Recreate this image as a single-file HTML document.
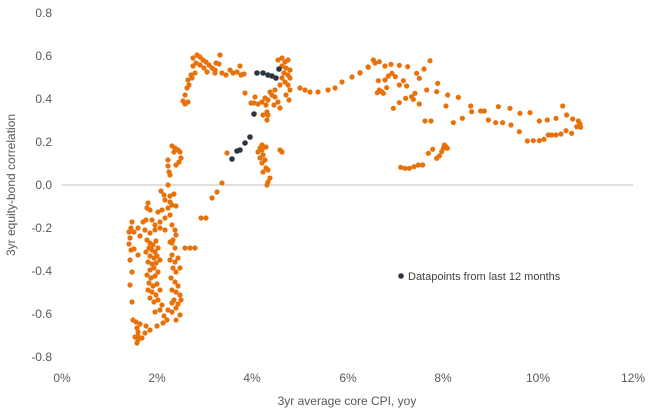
<!DOCTYPE html>
<html><head><meta charset="utf-8"><style>
html,body{margin:0;padding:0;background:#fff;}
svg{display:block;font-family:"Liberation Sans",sans-serif;}
</style></head><body>
<svg width="660" height="411" viewBox="0 0 660 411" xmlns="http://www.w3.org/2000/svg">
<line x1="62" y1="185" x2="633" y2="185" stroke="#bfbfbf" stroke-width="1"/>
<g fill="#595959" font-size="12" text-anchor="end">
<text x="52" y="17">0.8</text><text x="52" y="60">0.6</text><text x="52" y="103">0.4</text><text x="52" y="146">0.2</text><text x="52" y="189">0.0</text><text x="52" y="232">-0.2</text><text x="52" y="275">-0.4</text><text x="52" y="318">-0.6</text><text x="52" y="361">-0.8</text>
</g>
<g fill="#595959" font-size="12" text-anchor="middle">
<text x="62" y="382">0%</text><text x="157" y="382">2%</text><text x="252" y="382">4%</text><text x="348" y="382">6%</text><text x="443" y="382">8%</text><text x="538" y="382">10%</text><text x="633" y="382">12%</text>
<text x="347" y="405">3yr average core CPI, yoy</text>
<text transform="translate(15,185) rotate(-90)">3yr equity-bond correlation</text>
</g>
<g fill="#E8710A">
<circle cx="172" cy="146" r="2.6"/><circle cx="175" cy="148" r="2.6"/><circle cx="178" cy="150" r="2.6"/><circle cx="180" cy="152" r="2.6"/><circle cx="174" cy="152" r="2.6"/><circle cx="181" cy="158" r="2.6"/><circle cx="179" cy="162" r="2.6"/><circle cx="176" cy="165" r="2.6"/>
<circle cx="168" cy="160" r="2.6"/><circle cx="168" cy="166" r="2.6"/><circle cx="169" cy="172" r="2.6"/><circle cx="170" cy="175" r="2.6"/>
<circle cx="168" cy="185" r="2.6"/><circle cx="161" cy="191" r="2.6"/><circle cx="164" cy="195" r="2.6"/><circle cx="170" cy="196" r="2.6"/><circle cx="174" cy="194" r="2.6"/><circle cx="165" cy="200" r="2.6"/><circle cx="170" cy="202" r="2.6"/>
<circle cx="148" cy="203" r="2.6"/><circle cx="147" cy="208" r="2.6"/><circle cx="150" cy="210" r="2.6"/><circle cx="158" cy="212" r="2.6"/><circle cx="162" cy="210" r="2.6"/><circle cx="168" cy="208" r="2.6"/><circle cx="172" cy="205" r="2.6"/><circle cx="176" cy="206" r="2.6"/><circle cx="170" cy="215" r="2.6"/><circle cx="165" cy="218" r="2.6"/><circle cx="160" cy="222" r="2.6"/><circle cx="155" cy="225" r="2.6"/><circle cx="152" cy="220" r="2.6"/><circle cx="146" cy="220" r="2.6"/><circle cx="143" cy="222" r="2.6"/><circle cx="132" cy="222" r="2.6"/><circle cx="131" cy="228" r="2.6"/><circle cx="129" cy="232" r="2.6"/><circle cx="130" cy="238" r="2.6"/><circle cx="134" cy="232" r="2.6"/><circle cx="138" cy="228" r="2.6"/><circle cx="140" cy="236" r="2.6"/><circle cx="145" cy="230" r="2.6"/><circle cx="150" cy="233" r="2.6"/><circle cx="155" cy="230" r="2.6"/><circle cx="160" cy="228" r="2.6"/><circle cx="165" cy="230" r="2.6"/><circle cx="172" cy="225" r="2.6"/><circle cx="175" cy="230" r="2.6"/><circle cx="176" cy="235" r="2.6"/><circle cx="173" cy="240" r="2.6"/><circle cx="170" cy="242" r="2.6"/>
<circle cx="147" cy="240" r="2.6"/><circle cx="150" cy="243" r="2.6"/><circle cx="153" cy="245" r="2.6"/><circle cx="156" cy="241" r="2.6"/><circle cx="149" cy="248" r="2.6"/><circle cx="152" cy="250" r="2.6"/><circle cx="155" cy="252" r="2.6"/><circle cx="158" cy="248" r="2.6"/><circle cx="146" cy="252" r="2.6"/><circle cx="150" cy="256" r="2.6"/><circle cx="154" cy="258" r="2.6"/><circle cx="157" cy="256" r="2.6"/><circle cx="148" cy="262" r="2.6"/><circle cx="152" cy="264" r="2.6"/><circle cx="156" cy="263" r="2.6"/><circle cx="160" cy="260" r="2.6"/><circle cx="150" cy="270" r="2.6"/><circle cx="154" cy="268" r="2.6"/><circle cx="147" cy="275" r="2.6"/><circle cx="151" cy="278" r="2.6"/><circle cx="155" cy="276" r="2.6"/><circle cx="158" cy="272" r="2.6"/><circle cx="149" cy="283" r="2.6"/><circle cx="153" cy="286" r="2.6"/><circle cx="157" cy="284" r="2.6"/><circle cx="152" cy="292" r="2.6"/><circle cx="156" cy="295" r="2.6"/><circle cx="160" cy="290" r="2.6"/><circle cx="148" cy="290" r="2.6"/><circle cx="158" cy="300" r="2.6"/><circle cx="154" cy="302" r="2.6"/><circle cx="150" cy="298" r="2.6"/><circle cx="162" cy="305" r="2.6"/><circle cx="160" cy="310" r="2.6"/><circle cx="155" cy="312" r="2.6"/><circle cx="164" cy="316" r="2.6"/><circle cx="168" cy="310" r="2.6"/><circle cx="172" cy="303" r="2.6"/>
<circle cx="172" cy="243" r="2.6"/><circle cx="175" cy="248" r="2.6"/><circle cx="172" cy="255" r="2.6"/><circle cx="170" cy="260" r="2.6"/><circle cx="175" cy="262" r="2.6"/><circle cx="178" cy="258" r="2.6"/><circle cx="173" cy="268" r="2.6"/><circle cx="176" cy="272" r="2.6"/><circle cx="180" cy="268" r="2.6"/><circle cx="171" cy="278" r="2.6"/><circle cx="175" cy="282" r="2.6"/><circle cx="178" cy="286" r="2.6"/><circle cx="172" cy="290" r="2.6"/><circle cx="176" cy="292" r="2.6"/><circle cx="180" cy="295" r="2.6"/><circle cx="174" cy="300" r="2.6"/><circle cx="178" cy="304" r="2.6"/><circle cx="181" cy="300" r="2.6"/><circle cx="176" cy="308" r="2.6"/><circle cx="172" cy="312" r="2.6"/><circle cx="180" cy="315" r="2.6"/><circle cx="176" cy="320" r="2.6"/><circle cx="167" cy="320" r="2.6"/><circle cx="163" cy="323" r="2.6"/><circle cx="157" cy="326" r="2.6"/><circle cx="150" cy="330" r="2.6"/><circle cx="146" cy="326" r="2.6"/><circle cx="140" cy="324" r="2.6"/><circle cx="145" cy="333" r="2.6"/><circle cx="142" cy="338" r="2.6"/><circle cx="138" cy="336" r="2.6"/><circle cx="133" cy="320" r="2.6"/><circle cx="132" cy="302" r="2.6"/><circle cx="130" cy="285" r="2.6"/><circle cx="132" cy="272" r="2.6"/><circle cx="130" cy="260" r="2.6"/><circle cx="131" cy="250" r="2.6"/><circle cx="129" cy="244" r="2.6"/><circle cx="134" cy="249" r="2.6"/><circle cx="138" cy="255" r="2.6"/>
<circle cx="137" cy="328" r="2.6"/><circle cx="136" cy="322" r="2.6"/><circle cx="138" cy="340" r="2.6"/><circle cx="137" cy="343" r="2.6"/><circle cx="138" cy="332" r="2.6"/><circle cx="135" cy="337" r="2.6"/>
<circle cx="185" cy="248" r="2.6"/><circle cx="190" cy="248" r="2.6"/><circle cx="195" cy="248" r="2.6"/><circle cx="201" cy="218" r="2.6"/><circle cx="206" cy="218" r="2.6"/><circle cx="212" cy="198" r="2.6"/><circle cx="217" cy="192" r="2.6"/><circle cx="222" cy="183" r="2.6"/>
<circle cx="193" cy="58" r="2.6"/><circle cx="197" cy="55" r="2.6"/><circle cx="200" cy="57" r="2.6"/><circle cx="203" cy="60" r="2.6"/><circle cx="206" cy="62" r="2.6"/><circle cx="209" cy="65" r="2.6"/><circle cx="212" cy="68" r="2.6"/><circle cx="215" cy="70" r="2.6"/><circle cx="196" cy="63" r="2.6"/><circle cx="200" cy="65" r="2.6"/><circle cx="204" cy="68" r="2.6"/><circle cx="207" cy="72" r="2.6"/><circle cx="193" cy="66" r="2.6"/><circle cx="191" cy="75" r="2.6"/><circle cx="195" cy="73" r="2.6"/><circle cx="215" cy="73" r="2.6"/><circle cx="216" cy="63" r="2.6"/><circle cx="219" cy="64" r="2.6"/><circle cx="220" cy="55" r="2.6"/><circle cx="222" cy="73" r="2.6"/><circle cx="226" cy="75" r="2.6"/><circle cx="230" cy="70" r="2.6"/><circle cx="233" cy="73" r="2.6"/><circle cx="237" cy="72" r="2.6"/><circle cx="241" cy="75" r="2.6"/><circle cx="244" cy="74" r="2.6"/><circle cx="240" cy="66" r="2.6"/><circle cx="188" cy="80" r="2.6"/><circle cx="192" cy="78" r="2.6"/><circle cx="189" cy="85" r="2.6"/><circle cx="187" cy="88" r="2.6"/><circle cx="185" cy="95" r="2.6"/><circle cx="183" cy="101" r="2.6"/><circle cx="185" cy="104" r="2.6"/><circle cx="188" cy="102" r="2.6"/>
<circle cx="278" cy="60" r="2.6"/><circle cx="282" cy="58" r="2.6"/><circle cx="285" cy="62" r="2.6"/><circle cx="288" cy="60" r="2.6"/><circle cx="282" cy="66" r="2.6"/><circle cx="286" cy="68" r="2.6"/><circle cx="290" cy="70" r="2.6"/><circle cx="284" cy="73" r="2.6"/><circle cx="288" cy="75" r="2.6"/><circle cx="290" cy="78" r="2.6"/><circle cx="282" cy="78" r="2.6"/><circle cx="285" cy="82" r="2.6"/><circle cx="288" cy="85" r="2.6"/><circle cx="290" cy="90" r="2.6"/><circle cx="280" cy="85" r="2.6"/><circle cx="275" cy="90" r="2.6"/><circle cx="272" cy="95" r="2.6"/><circle cx="268" cy="100" r="2.6"/><circle cx="262" cy="102" r="2.6"/><circle cx="258" cy="104" r="2.6"/><circle cx="254" cy="103" r="2.6"/><circle cx="251" cy="103" r="2.6"/><circle cx="245" cy="93" r="2.6"/><circle cx="255" cy="97" r="2.6"/><circle cx="265" cy="98" r="2.6"/><circle cx="270" cy="92" r="2.6"/><circle cx="275" cy="97" r="2.6"/><circle cx="278" cy="102" r="2.6"/><circle cx="274" cy="105" r="2.6"/><circle cx="266" cy="105" r="2.6"/><circle cx="286" cy="95" r="2.6"/><circle cx="289" cy="100" r="2.6"/><circle cx="280" cy="108" r="2.6"/><circle cx="267" cy="112" r="2.6"/><circle cx="268" cy="115" r="2.6"/><circle cx="267" cy="120" r="2.6"/><circle cx="263" cy="115" r="2.6"/>
<circle cx="300" cy="88" r="2.6"/><circle cx="305" cy="90" r="2.6"/><circle cx="310" cy="92" r="2.6"/><circle cx="318" cy="92" r="2.6"/><circle cx="328" cy="90" r="2.6"/><circle cx="335" cy="88" r="2.6"/><circle cx="342" cy="82" r="2.6"/><circle cx="352" cy="77" r="2.6"/><circle cx="360" cy="73" r="2.6"/><circle cx="368" cy="67" r="2.6"/><circle cx="375" cy="63" r="2.6"/>
<circle cx="260" cy="148" r="2.6"/><circle cx="262" cy="150" r="2.6"/><circle cx="258" cy="152" r="2.6"/><circle cx="263" cy="155" r="2.6"/><circle cx="260" cy="158" r="2.6"/><circle cx="265" cy="160" r="2.6"/><circle cx="262" cy="163" r="2.6"/><circle cx="266" cy="168" r="2.6"/><circle cx="263" cy="172" r="2.6"/><circle cx="268" cy="170" r="2.6"/><circle cx="270" cy="178" r="2.6"/><circle cx="268" cy="182" r="2.6"/><circle cx="267" cy="185" r="2.6"/><circle cx="280" cy="150" r="2.6"/><circle cx="282" cy="152" r="2.6"/><circle cx="262" cy="145" r="2.6"/><circle cx="266" cy="147" r="2.6"/><circle cx="227" cy="153" r="2.6"/>
</g>
<g fill="#E8710A" transform="translate(360,50) scale(0.33333)">
<circle cx="0" cy="68" r="7.8"/><circle cx="25" cy="52" r="7.8"/><circle cx="40" cy="30" r="7.8"/><circle cx="58" cy="35" r="7.8"/><circle cx="75" cy="48" r="7.8"/><circle cx="93" cy="43" r="7.8"/><circle cx="118" cy="46" r="7.8"/><circle cx="143" cy="50" r="7.8"/><circle cx="210" cy="32" r="7.8"/><circle cx="192" cy="57" r="7.8"/><circle cx="170" cy="70" r="7.8"/><circle cx="178" cy="85" r="7.8"/><circle cx="55" cy="92" r="7.8"/><circle cx="75" cy="90" r="7.8"/><circle cx="85" cy="78" r="7.8"/><circle cx="96" cy="70" r="7.8"/><circle cx="106" cy="80" r="7.8"/><circle cx="130" cy="92" r="7.8"/><circle cx="118" cy="105" r="7.8"/><circle cx="140" cy="108" r="7.8"/><circle cx="80" cy="113" r="7.8"/><circle cx="52" cy="128" r="7.8"/><circle cx="58" cy="120" r="7.8"/><circle cx="65" cy="125" r="7.8"/><circle cx="70" cy="130" r="7.8"/><circle cx="233" cy="100" r="7.8"/><circle cx="230" cy="125" r="7.8"/><circle cx="200" cy="120" r="7.8"/><circle cx="165" cy="130" r="7.8"/><circle cx="155" cy="140" r="7.8"/><circle cx="160" cy="148" r="7.8"/><circle cx="137" cy="145" r="7.8"/><circle cx="118" cy="158" r="7.8"/><circle cx="100" cy="175" r="7.8"/><circle cx="178" cy="162" r="7.8"/><circle cx="263" cy="135" r="7.8"/><circle cx="295" cy="142" r="7.8"/><circle cx="258" cy="168" r="7.8"/><circle cx="332" cy="168" r="7.8"/><circle cx="335" cy="185" r="7.8"/><circle cx="362" cy="183" r="7.8"/><circle cx="373" cy="183" r="7.8"/><circle cx="415" cy="170" r="7.8"/><circle cx="450" cy="175" r="7.8"/><circle cx="480" cy="190" r="7.8"/><circle cx="510" cy="188" r="7.8"/><circle cx="307" cy="205" r="7.8"/><circle cx="280" cy="218" r="7.8"/><circle cx="385" cy="210" r="7.8"/><circle cx="407" cy="218" r="7.8"/><circle cx="428" cy="218" r="7.8"/><circle cx="453" cy="225" r="7.8"/><circle cx="538" cy="213" r="7.8"/><circle cx="562" cy="210" r="7.8"/><circle cx="588" cy="205" r="7.8"/><circle cx="608" cy="168" r="7.8"/><circle cx="620" cy="195" r="7.8"/><circle cx="638" cy="207" r="7.8"/><circle cx="655" cy="213" r="7.8"/><circle cx="660" cy="222" r="7.8"/><circle cx="662" cy="232" r="7.8"/><circle cx="650" cy="230" r="7.8"/><circle cx="635" cy="250" r="7.8"/><circle cx="618" cy="242" r="7.8"/><circle cx="603" cy="252" r="7.8"/><circle cx="588" cy="255" r="7.8"/><circle cx="575" cy="255" r="7.8"/><circle cx="565" cy="255" r="7.8"/><circle cx="552" cy="268" r="7.8"/><circle cx="538" cy="272" r="7.8"/><circle cx="520" cy="272" r="7.8"/><circle cx="502" cy="273" r="7.8"/><circle cx="478" cy="245" r="7.8"/><circle cx="195" cy="213" r="7.8"/><circle cx="213" cy="213" r="7.8"/><circle cx="253" cy="285" r="7.8"/><circle cx="258" cy="290" r="7.8"/><circle cx="262" cy="295" r="7.8"/><circle cx="250" cy="295" r="7.8"/><circle cx="245" cy="305" r="7.8"/><circle cx="238" cy="318" r="7.8"/><circle cx="230" cy="325" r="7.8"/><circle cx="218" cy="298" r="7.8"/><circle cx="205" cy="310" r="7.8"/><circle cx="188" cy="345" r="7.8"/><circle cx="175" cy="345" r="7.8"/><circle cx="162" cy="350" r="7.8"/><circle cx="148" cy="355" r="7.8"/><circle cx="135" cy="355" r="7.8"/><circle cx="122" cy="352" r="7.8"/>
</g>
<g fill="#2E3440">
<circle cx="257" cy="73" r="2.8"/><circle cx="263" cy="73" r="2.8"/><circle cx="268" cy="75" r="2.8"/><circle cx="272" cy="76" r="2.8"/><circle cx="276" cy="78" r="2.8"/><circle cx="279" cy="69" r="2.8"/>
<circle cx="254" cy="114" r="2.8"/><circle cx="250" cy="137" r="2.8"/><circle cx="245" cy="143" r="2.8"/><circle cx="240" cy="150" r="2.8"/><circle cx="237" cy="151" r="2.8"/><circle cx="232" cy="159" r="2.8"/>
<circle cx="401" cy="276" r="2.8"/>
</g>
<text x="408" y="280" font-size="11" fill="#404040">Datapoints from last 12 months</text>
</svg>
</body></html>
